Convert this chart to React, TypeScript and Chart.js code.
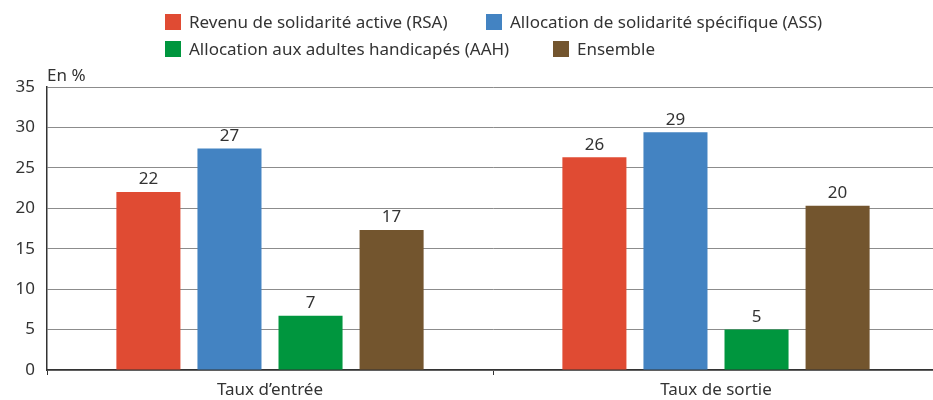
import React, { useEffect, useRef } from "react";
import { Chart, registerables } from "chart.js";

Chart.register(...registerables);

const categories = ["Taux d’entrée", "Taux de sortie"];
const seriesNames = [
  "Revenu de solidarité active (RSA)",
  "Allocation de solidarité spécifique (ASS)",
  "Allocation aux adultes handicapés (AAH)",
  "Ensemble",
];
const seriesColors = ["#E04B33", "#4383C2", "#00963E", "#73552E"];
const rsaValues = [22.0, 26.3];
const assValues = [27.4, 29.4];
const aahValues = [6.7, 5.0];
const ensembleValues = [17.3, 20.3];
const yTicks = [0, 5, 10, 15, 20, 25, 30, 35];

const FONT = "'Noto Sans', sans-serif";

const valueLabels = {
  id: "valueLabels",
  afterDatasetsDraw(chart: any) {
    const ctx = chart.ctx;
    ctx.save();
    ctx.font = `17px ${FONT}`;
    ctx.fillStyle = "#333";
    ctx.textAlign = "center";
    ctx.textBaseline = "bottom";
    chart.data.datasets.forEach((ds: any, i: number) => {
      const meta = chart.getDatasetMeta(i);
      meta.data.forEach((bar: any, j: number) => {
        ctx.fillText(String(Math.round(ds.data[j])), bar.x, bar.y - 4);
      });
    });
    ctx.restore();
  },
};

const unitLabel = {
  id: "unitLabel",
  afterDraw(chart: any) {
    const ctx = chart.ctx;
    ctx.save();
    ctx.font = `17px ${FONT}`;
    ctx.fillStyle = "#333";
    ctx.textAlign = "left";
    ctx.textBaseline = "bottom";
    ctx.fillText("En %", chart.chartArea.left, chart.chartArea.top - 2);
    ctx.restore();
  },
};

const legendItems = [
  { i: 0, left: 165, top: 14 },
  { i: 1, left: 486, top: 14 },
  { i: 2, left: 165, top: 41 },
  { i: 3, left: 553, top: 41 },
];

export default function App() {
  const ref = useRef<HTMLCanvasElement>(null);
  useEffect(() => {
    document.body.style.margin = "0";
    const values = [rsaValues, assValues, aahValues, ensembleValues];
    const chart = new Chart(ref.current!, {
      type: "bar",
      data: {
        labels: categories,
        datasets: seriesNames.map((name, i) => ({
          label: name,
          data: values[i],
          backgroundColor: seriesColors[i],
          barPercentage: 0.79,
          categoryPercentage: 0.727,
        })),
      },
      options: {
        animation: false,
        responsive: false,
        layout: { padding: { top: 87, right: 0, left: 0, bottom: 0 } },
        plugins: {
          legend: { display: false },
          tooltip: { enabled: false },
        },
        scales: {
          x: {
            grid: {
              offset: true,
              drawOnChartArea: false,
              drawTicks: true,
              tickLength: 5,
              color: "#333",
            },
            border: { color: "#333", width: 1.5 },
            ticks: { color: "#333", font: { family: FONT, size: 17 }, padding: 5 },
            afterFit(scale: any) {
              scale.height = 30;
            },
          },
          y: {
            min: 0,
            max: 35,
            afterBuildTicks(scale: any) {
              scale.ticks = yTicks.map((v) => ({ value: v }));
            },
            grid: { color: "#8c8c8c", drawTicks: false, lineWidth: 1 },
            border: { color: "#333", width: 1.5 },
            ticks: { color: "#333", font: { family: FONT, size: 17 }, padding: 12 },
            afterFit(scale: any) {
              scale.width = 47;
            },
          },
        },
      },
      plugins: [valueLabels, unitLabel],
    });
    return () => chart.destroy();
  }, []);

  return (
    <div style={{ position: "relative", width: 933, height: 400, fontFamily: FONT, overflow: "hidden" }}>
      <canvas ref={ref} width={939} height={400} style={{ display: "block" }} />
      {legendItems.map(({ i, left, top }) => (
        <div
          key={i}
          style={{ position: "absolute", left, top, display: "flex", alignItems: "center", height: 16, whiteSpace: "nowrap" }}
        >
          <span
            style={{ display: "inline-block", width: 16, height: 16, background: seriesColors[i], marginRight: 8 }}
          />
          <span style={{ fontSize: 17, color: "#333", lineHeight: "16px" }}>{seriesNames[i]}</span>
        </div>
      ))}
    </div>
  );
}
